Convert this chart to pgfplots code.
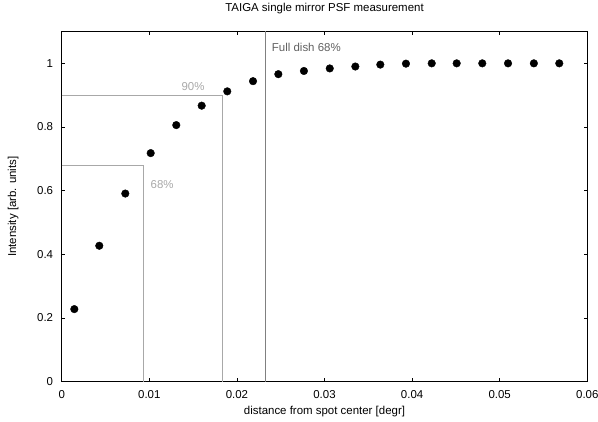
\documentclass[border=0pt]{standalone}
\usepackage{fontspec}
\setmainfont{Liberation Sans}
\usepackage{pgfplots}
\pgfplotsset{compat=1.18}

\definecolor{boxgray}{HTML}{A8A8A8}
\definecolor{dishgray}{HTML}{808080}
\definecolor{dishtext}{HTML}{606060}

\newcommand{\chartfont}{\fontsize{11.5}{13}\selectfont}

\begin{document}
\begin{tikzpicture}
\begin{axis}[
    scale only axis,
    width=525.6bp, height=350.2bp,
    xmin=0, xmax=0.06, ymin=0, ymax=1.1,
    xtick={0,0.01,...,0.06},
    ytick={0,0.2,...,1},
    scaled x ticks=false, scaled y ticks=false,
    /pgf/number format/fixed,
    /pgf/number format/precision=2,
    /pgf/number format/assume math mode=true,
    tick label style={font=\chartfont},
    label style={font=\chartfont},
    title style={font=\chartfont, at={(0.5,1.0491)}, anchor=center},
    xlabel style={at={(0.5,-0.0842)}, anchor=center},
    ylabel style={at={(-0.0923,0.5)}, anchor=center},
    title={TAIGA single mirror PSF measurement},
    xlabel={distance from spot center [degr]},
    ylabel={Intensity [arb. units]},
    axis line style={line width=0.8bp},
    major tick length=3.4bp,
    tick style={line width=0.7bp, black},
    xticklabel style={inner sep=0pt, anchor=north, yshift=-8.3bp},
    yticklabel style={inner sep=0pt, anchor=east, xshift=-8.4bp},
]
% containment radii
\addplot[boxgray, line width=0.9bp] coordinates {(0,0.68)(0.00932,0.68)(0.00932,0)};
\addplot[boxgray, line width=0.9bp] coordinates {(0,0.90)(0.01838,0.90)(0.01838,0)};
\addplot[dishgray, line width=1.1bp] coordinates {(0.02329,0)(0.02329,1.1)};

\node[boxgray, anchor=west, font=\chartfont] at (axis cs:0.00975,0.62) {68\%};
\node[boxgray, anchor=east, font=\chartfont] at (axis cs:0.0167,0.928) {90\%};
\node[dishtext, anchor=west, font=\chartfont] at (axis cs:0.0236,1.05) {Full dish 68\%};

% measured points
\addplot[only marks, mark=*, mark size=3.8bp, black] coordinates {
    (0.00144,0.228) (0.00429,0.427) (0.00726,0.591) (0.01016,0.718)
    (0.01308,0.806) (0.01598,0.867) (0.01890,0.912) (0.02184,0.944)
    (0.02473,0.966) (0.02765,0.976) (0.03060,0.984) (0.03352,0.990)
    (0.03637,0.996) (0.03930,0.999) (0.04224,1.000) (0.04509,1.000)
    (0.04801,1.000) (0.05095,1.000) (0.05390,1.000) (0.05680,1.000)
};
\end{axis}
\pgfresetboundingbox
\path[use as bounding box] ([xshift=-61.7bp,yshift=-39.3bp]current axis.south west)
    rectangle ([xshift=10.7bp,yshift=31.5bp]current axis.north east);
\end{tikzpicture}
\end{document}
